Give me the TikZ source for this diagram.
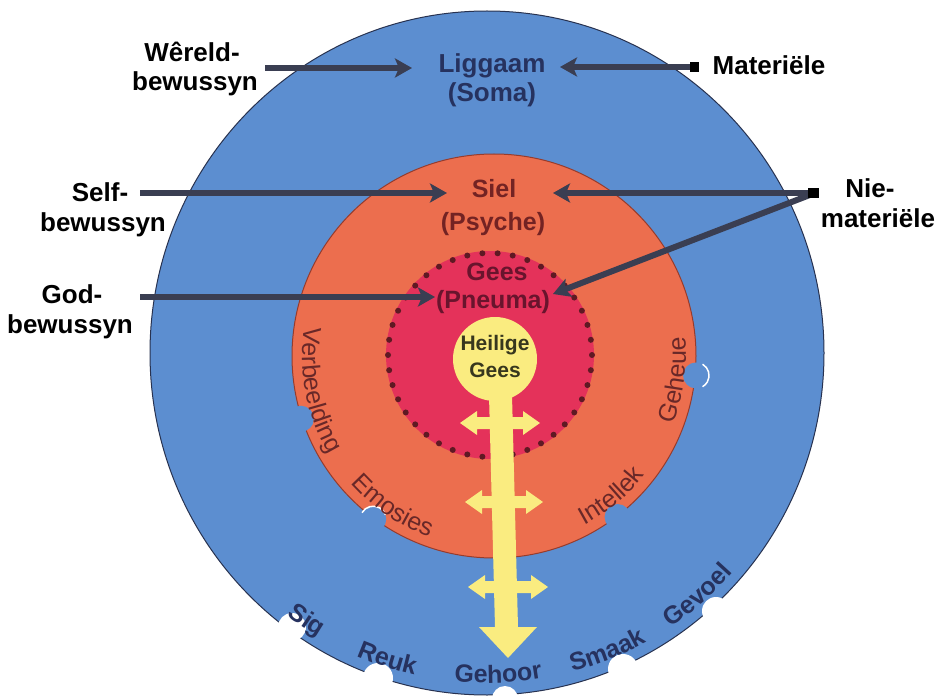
\documentclass[tikz,border=0pt]{standalone}
\usepackage{fontspec}
\setmainfont{Liberation Sans}
\usetikzlibrary{arrows.meta,decorations.text}
\definecolor{blueout}{RGB}{92,142,208}
\definecolor{blueedge}{RGB}{40,50,80}
\definecolor{orangemid}{RGB}{236,110,78}
\definecolor{orangeedge}{RGB}{150,60,45}
\definecolor{pinkin}{RGB}{228,50,90}
\definecolor{yellowc}{RGB}{250,236,128}
\definecolor{arrowc}{RGB}{58,62,82}
\definecolor{navytxt}{RGB}{38,50,95}
\definecolor{sieltxt}{RGB}{115,35,35}
\definecolor{geestxt}{RGB}{105,20,45}
\definecolor{hgtxt}{RGB}{55,55,30}
\definecolor{soultxt}{RGB}{105,40,40}
\definecolor{dotc}{RGB}{95,25,35}
\begin{document}
\begin{tikzpicture}[x=1pt,y=1pt,
  lbl/.style={font=\fontsize{26}{28}\selectfont\bfseries, anchor=base, inner sep=0pt},
  lbltwo/.style={font=\fontsize{25}{27}\selectfont\bfseries, anchor=base, inner sep=0pt},
  lblthree/.style={font=\fontsize{21}{23}\selectfont\bfseries, anchor=base, inner sep=0pt},
  conn/.style={draw=arrowc, line width=6pt, -{Stealth[length=17pt,width=19pt,inset=4pt]}},
  notchw/.style={fill=white},
  notchb/.style={fill=blueout},
  yarrow/.style={fill=yellowc}
]
\useasboundingbox (0,0) rectangle (938,-698);
% outer circle
\fill[blueout] (487,-353) ellipse [x radius=337pt, y radius=342pt];
\draw[blueedge, line width=1pt] (487,-353) ellipse [x radius=337pt, y radius=342pt];
% white notches on outer edge
\fill[notchw] (292,-627) circle (14pt);
\fill[notchw] (378,-678) circle (15pt);
\fill[notchw] (505,-699) circle (13pt);
\fill[notchw] (623,-669) circle (15pt);
\fill[notchw] (716,-611) circle (14pt);
% orange circle
\fill[orangemid] (494,-356) circle (202pt);
\draw[orangeedge, line width=1pt] (494,-356) circle (202pt);
% blue notches on orange edge
\foreach \a in {198,233.5,307.5,354.5}
  \fill[notchb] ([shift={(494,-356)}]\a:203pt) circle (13pt);
\draw[white, line width=1.5pt] ([shift={(494,-356)}]233.5:203pt) ++(150:13pt) arc[start angle=150, end angle=20, radius=13pt];
\draw[white, line width=1.5pt] ([shift={(494,-356)}]354.5:203pt) ++(60:13pt) arc[start angle=60, end angle=-60, radius=13pt];
% pink spirit circle
\fill[pinkin] (490,-355) circle (104pt);
\foreach \i in {0,...,41}
  \fill[dotc] ([shift={(490,-355)}]\i*360/42:102pt) circle (3pt);
% yellow shaft with arrow
\fill[yarrow] (489,-395) -- (495,-627) -- (479,-627) -- (508,-658) -- (537,-627) -- (518,-627) -- (512,-395) -- cycle;
% cross double arrows
\foreach \xl/\xr/\yy in {460/540/423, 465/543/502, 468/548/587}
  \fill[yarrow] (\xl,-\yy) -- (\xl+17,-\yy+12) -- (\xl+17,-\yy+6) -- (\xr-17,-\yy+6) -- (\xr-17,-\yy+12)
     -- (\xr,-\yy) -- (\xr-17,-\yy-12) -- (\xr-17,-\yy-6) -- (\xl+17,-\yy-6) -- (\xl+17,-\yy-12) -- cycle;
\fill[yellowc] (495,-359) circle (42pt);
% curved labels in soul ring
\path[decorate, decoration={text along path, text align=center,
  text={|\fontsize{25}{25}\selectfont\color{soultxt}|Verbeelding}}]
  ([shift={(494,-356)}]161:192pt) arc[start angle=161, end angle=221, radius=192pt];
\path[decorate, decoration={text along path, text align=center,
  text={|\fontsize{25}{25}\selectfont\color{soultxt}|Emosies}}]
  ([shift={(494,-356)}]211:192pt) arc[start angle=211, end angle=261, radius=192pt];
\path[decorate, decoration={text along path, text align=center,
  text={|\fontsize{25}{25}\selectfont\color{soultxt}|Intellek}}]
  ([shift={(494,-356)}]285:192pt) arc[start angle=285, end angle=335, radius=192pt];
\path[decorate, decoration={text along path, text align=center,
  text={|\fontsize{25}{25}\selectfont\color{soultxt}|Geheue}}]
  ([shift={(494,-356)}]328:192pt) arc[start angle=328, end angle=377, radius=192pt];
% senses on outer ring
\path[decorate, decoration={text along path, text align=center,
  text={|\fontsize{25}{25}\selectfont\bfseries\color{navytxt}|Sig}}]
  ([shift={(487,-353)}]224:330pt) arc[start angle=224, end angle=248, radius=330pt];
\path[decorate, decoration={text along path, text align=center,
  text={|\fontsize{25}{25}\selectfont\bfseries\color{navytxt}|Reuk}}]
  ([shift={(487,-353)}]240:330pt) arc[start angle=240, end angle=264, radius=330pt];
\path[decorate, decoration={text along path, text align=center,
  text={|\fontsize{25}{25}\selectfont\bfseries\color{navytxt}|Gehoor}}]
  ([shift={(487,-353)}]260:330pt) arc[start angle=260, end angle=284, radius=330pt];
\path[decorate, decoration={text along path, text align=center,
  text={|\fontsize{25}{25}\selectfont\bfseries\color{navytxt}|Smaak}}]
  ([shift={(487,-353)}]280:330pt) arc[start angle=280, end angle=304, radius=330pt];
\path[decorate, decoration={text along path, text align=center,
  text={|\fontsize{25}{25}\selectfont\bfseries\color{navytxt}|Gevoel}}]
  ([shift={(487,-353)}]299:330pt) arc[start angle=299, end angle=323, radius=330pt];
% text labels
\node[lbl] (wer1) at (192,-62) {Wêreld-};
\node[lbl] (wer2) at (195,-91) {bewussyn};
\node[lbl,text=navytxt] (lig1) at (492,-73) {Liggaam};
\node[lbl,text=navytxt] (lig2) at (492,-102) {(Soma)};
\node[lbl] (mat) at (769,-75) {Materiële};
\node[lbl] (self1) at (100,-202) {Self-};
\node[lbl] (self2) at (103,-232) {bewussyn};
\node[lbl] (god1) at (72,-303) {God-};
\node[lbl] (god2) at (70,-333) {bewussyn};
\node[lbltwo,text=sieltxt] (siel1) at (494,-198) {Siel};
\node[lbltwo,text=sieltxt] (siel2) at (493,-230) {(Psyche)};
\node[lbltwo,text=geestxt] (gees1) at (497,-280) {Gees};
\node[lbltwo,text=geestxt] (gees2) at (493,-308) {(Pneuma)};
\node[lblthree,text=hgtxt] (hg1) at (495,-350) {Heilige};
\node[lblthree,text=hgtxt] (hg2) at (495,-377) {Gees};
\node[lbl] (nie1) at (870,-198) {Nie-};
\node[lbl] (nie2) at (878,-228) {materiële};
% arrow end points
\coordinate (wA) at (265,-68);  \coordinate (wB) at (412,-68);
\coordinate (mA) at (695,-67);  \coordinate (mB) at (560,-67);
\coordinate (sA) at (140,-193); \coordinate (sB) at (447,-193);
\coordinate (nA) at (815,-193); \coordinate (nB) at (553,-193);
\coordinate (nC) at (553,-294);
\coordinate (gA) at (140,-297); \coordinate (gB) at (435,-297);
\draw[conn] (wA) -- (wB);
\draw[conn] (mA) -- (mB);
\draw[conn] (sA) -- (sB);
\draw[conn] (nA) -- (nB);
\draw[conn] (nA) -- (nC);
\draw[conn] (gA) -- (gB);
\fill[black] (690,-62) rectangle (699,-72);
\fill[black] (808,-188) rectangle (819,-198);
\end{tikzpicture}
\end{document}
